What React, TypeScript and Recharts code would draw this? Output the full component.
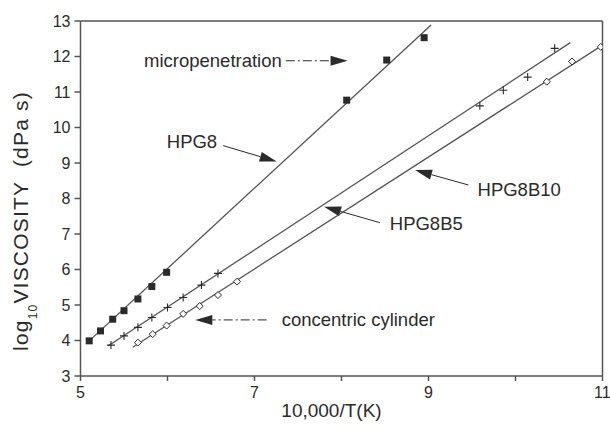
import React from 'react'
import { ComposedChart, Scatter, XAxis, YAxis, ReferenceLine } from 'recharts'

// HPG8 (filled squares): concentric cylinder + micropenetration
const hpg8X = [5.10, 5.23, 5.37, 5.50, 5.66, 5.82, 5.99, 8.06, 8.52, 8.95]
const hpg8Y = [3.99, 4.27, 4.60, 4.84, 5.17, 5.52, 5.92, 10.77, 11.90, 12.53]

// HPG8B5 (plus signs)
const b5X = [5.35, 5.50, 5.66, 5.82, 6.00, 6.18, 6.39, 6.58, 9.59, 9.86, 10.14, 10.45]
const b5Y = [3.87, 4.13, 4.37, 4.65, 4.93, 5.21, 5.56, 5.89, 10.61, 11.05, 11.42, 12.23]

// HPG8B10 (open diamonds)
const b10X = [5.66, 5.83, 5.99, 6.18, 6.37, 6.58, 6.80, 10.36, 10.65, 10.98]
const b10Y = [3.94, 4.18, 4.42, 4.75, 4.97, 5.28, 5.66, 11.29, 11.86, 12.27]

// fitted straight lines (end points)
const hpg8FitX = [5.10, 9.03]
const hpg8FitY = [3.99, 12.89]
const b5FitX = [5.32, 10.63]
const b5FitY = [3.85, 12.39]
const b10FitX = [5.60, 11.0]
const b10FitY = [3.81, 12.32]

const xTicks = [5, 6, 7, 8, 9, 10, 11]
const yTicks = [3, 4, 5, 6, 7, 8, 9, 10, 11, 12, 13]

// annotations: label, arrow tail -> arrow tip
const notes = [
  { text: 'micropenetration', from: [7.36, 11.88], to: [8.07, 11.88], anchor: 'end', dx: -4, dy: 0, dashed: true },
  { text: 'HPG8', from: [6.64, 9.49], to: [7.255, 9.04], anchor: 'end', dx: -6, dy: -4, dashed: false },
  { text: 'HPG8B5', from: [8.44, 7.32], to: [7.80, 7.77], anchor: 'start', dx: 10, dy: 1, dashed: false },
  { text: 'HPG8B10', from: [9.46, 8.38], to: [8.845, 8.80], anchor: 'start', dx: 9, dy: 4, dashed: false },
  { text: 'concentric cylinder', from: [7.14, 4.58], to: [6.32, 4.58], anchor: 'start', dx: 15, dy: 0, dashed: true },
]

const pts = (xs: number[], ys: number[]) => xs.map((x, i) => ({ x, y: ys[i] }))

const INK = '#2b2b2b'
const LINE = '#555'
const FONT = '"Liberation Sans", Arial, Helvetica, sans-serif'

const Square = (p: any) => <rect x={p.cx - 3.5} y={p.cy - 3.5} width={7} height={7} fill={INK} />
const Plus = (p: any) => (
  <g stroke={INK} strokeWidth={1.1}>
    <line x1={p.cx - 4} y1={p.cy} x2={p.cx + 4} y2={p.cy} />
    <line x1={p.cx} y1={p.cy - 4} x2={p.cx} y2={p.cy + 4} />
  </g>
)
const Diamond = (p: any) => (
  <polygon
    points={`${p.cx},${p.cy - 3.5} ${p.cx + 3.5},${p.cy} ${p.cx},${p.cy + 3.5} ${p.cx - 3.5},${p.cy}`}
    fill="#fff"
    stroke={INK}
    strokeWidth={1}
  />
)
const NoDot = () => <g />

function arrow(n: any) {
  return (props: any) => {
    const { x1, y1, x2, y2 } = props
    const ang = Math.atan2(y2 - y1, x2 - x1)
    const len = 17
    const half = 5
    const bx = x2 - len * Math.cos(ang)
    const by = y2 - len * Math.sin(ang)
    const px = -Math.sin(ang) * half
    const py = Math.cos(ang) * half
    return (
      <g>
        <line
          x1={x1}
          y1={y1}
          x2={bx}
          y2={by}
          stroke={INK}
          strokeWidth={1}
          strokeDasharray={n.dashed ? '9 3 2 3' : undefined}
        />
        <polygon points={`${x2},${y2} ${bx + px},${by + py} ${bx - px},${by - py}`} fill={INK} />
        <text
          x={x1 + n.dx}
          y={y1 + n.dy}
          textAnchor={n.anchor}
          dominantBaseline="central"
          fontSize={18.5}
          fill={INK}
          fontFamily={FONT}
        >
          {n.text}
        </text>
      </g>
    )
  }
}

const YTitle = () => (
  <text
    transform="translate(28,221) rotate(-90)"
    textAnchor="middle"
    fontSize={21}
    fill={INK}
    fontFamily={FONT}
    letterSpacing={1.2}
    style={{ whiteSpace: 'pre' }}
  >
    <tspan>log</tspan>
    <tspan fontSize={12} dy={9}>10</tspan>
    <tspan dy={-9}>VISCOSITY  (dPa s)</tspan>
  </text>
)

const XTitle = (p: any) => {
  const vb = p.viewBox
  return (
    <text
      x={vb.x + vb.width / 2 - 10}
      y={vb.y + 34}
      textAnchor="middle"
      dominantBaseline="central"
      fontSize={19}
      fill={INK}
      fontFamily={FONT}
    >
      10,000/T(K)
    </text>
  )
}

export default function App() {
  return (
    <div style={{ width: 610, height: 436, background: '#fff', fontFamily: FONT }}>
      <style>{'body{margin:0}'}</style>
      <ComposedChart width={610} height={436} margin={{ top: 21, right: 7.5, bottom: 0, left: 0 }}>
        <XAxis
          type="number"
          dataKey="x"
          domain={[5, 11]}
          ticks={xTicks}
          allowDataOverflow
          tickFormatter={(v: number) => (v % 2 === 1 ? String(v) : '')}
          tickSize={5}
          tickMargin={6}
          height={60}
          stroke={LINE}
          strokeWidth={1.5}
          tick={{ fill: INK, fontSize: 16, fontFamily: FONT }}
          label={<XTitle />}
        />
        <YAxis
          type="number"
          dataKey="y"
          domain={[3, 13]}
          ticks={yTicks}
          allowDataOverflow
          width={80.5}
          tickSize={6}
          tickMargin={4}
          stroke={LINE}
          strokeWidth={1.5}
          tick={{ fill: INK, fontSize: 16, fontFamily: FONT }}
          label={<YTitle />}
        />
        <ReferenceLine y={13} stroke={LINE} strokeWidth={1.5} />
        <ReferenceLine x={11} stroke={LINE} strokeWidth={1.5} />

        <Scatter data={pts(hpg8FitX, hpg8FitY)} line={{ stroke: LINE, strokeWidth: 1.3 }} shape={NoDot} isAnimationActive={false} />
        <Scatter data={pts(b5FitX, b5FitY)} line={{ stroke: LINE, strokeWidth: 1.3 }} shape={NoDot} isAnimationActive={false} />
        <Scatter data={pts(b10FitX, b10FitY)} line={{ stroke: LINE, strokeWidth: 1.3 }} shape={NoDot} isAnimationActive={false} />

        <Scatter name="HPG8" data={pts(hpg8X, hpg8Y)} shape={Square} isAnimationActive={false} />
        <Scatter name="HPG8B5" data={pts(b5X, b5Y)} shape={Plus} isAnimationActive={false} />
        <Scatter name="HPG8B10" data={pts(b10X, b10Y)} shape={Diamond} isAnimationActive={false} />

        {notes.map((n) => (
          <ReferenceLine
            key={n.text}
            segment={[
              { x: n.from[0], y: n.from[1] },
              { x: n.to[0], y: n.to[1] },
            ]}
            shape={arrow(n)}
            ifOverflow="visible"
          />
        ))}
      </ComposedChart>
    </div>
  )
}
